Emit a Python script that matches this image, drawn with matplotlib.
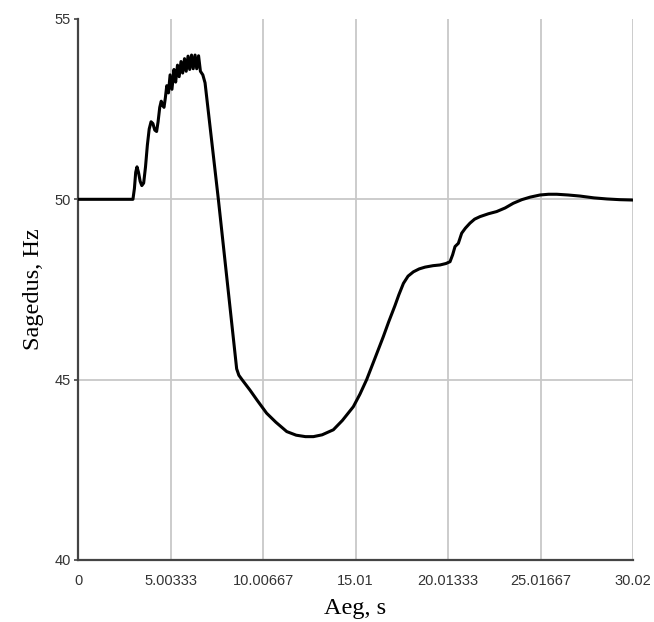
import matplotlib
matplotlib.use("Agg")
import matplotlib.pyplot as plt

# time (s) and frequency (Hz)
T = [0.0, 2.97, 3.05, 3.12, 3.19, 3.27, 3.36, 3.45, 3.55, 3.65, 3.75,
     3.85, 3.95, 4.05, 4.15, 4.25, 4.33, 4.42, 4.50, 4.58, 4.65, 4.72,
     4.80, 4.89, 4.98, 5.08, 5.19, 5.28, 5.38, 5.47, 5.57, 5.66, 5.76,
     5.85, 5.95, 6.04, 6.14, 6.23, 6.33, 6.42, 6.52, 6.62, 6.75, 6.87,
     7.59, 8.58, 8.70, 8.90, 9.30, 9.70, 10.20, 10.70, 11.29, 11.80,
     12.30, 12.73, 13.20, 13.81, 14.30, 14.89, 15.25, 15.61, 16.05, 16.51,
     16.80, 17.14, 17.35, 17.60, 17.85, 18.14, 18.45, 18.77, 19.20, 19.58,
     19.90, 20.12, 20.26, 20.39, 20.57, 20.75, 20.95, 21.20, 21.45, 21.74,
     22.20, 22.64, 23.10, 23.54, 24.00, 24.45, 24.99, 25.45, 25.89, 26.50,
     27.15, 27.90, 28.60, 29.30, 30.02]
F = [50.0, 50.0, 50.30, 50.75, 50.90, 50.75, 50.50, 50.38, 50.45, 50.90, 51.50,
     51.95, 52.15, 52.10, 51.92, 51.88, 52.15, 52.55, 52.72, 52.60, 52.55, 52.80,
     53.15, 52.95, 53.45, 53.05, 53.60, 53.25, 53.72, 53.40, 53.82, 53.50, 53.90,
     53.55, 53.97, 53.60, 54.00, 53.62, 54.00, 53.62, 53.98, 53.55, 53.45, 53.23,
     50.00, 45.30, 45.12, 44.98, 44.71, 44.42, 44.07, 43.82, 43.56, 43.46,
     43.42, 43.42, 43.47, 43.61, 43.87, 44.25, 44.60, 45.00, 45.58, 46.19,
     46.60, 47.05, 47.35, 47.67, 47.87, 47.99, 48.07, 48.12, 48.16, 48.18,
     48.22, 48.27, 48.46, 48.69, 48.78, 49.06, 49.20, 49.34, 49.45, 49.52,
     49.60, 49.66, 49.76, 49.89, 49.99, 50.06, 50.12, 50.14, 50.14, 50.12,
     50.09, 50.04, 50.01, 49.99, 49.98]

XTICKS = [0, 5.00333, 10.00667, 15.01, 20.01333, 25.01667, 30.02]
XTICKLABELS = ["0", "5.00333", "10.00667", "15.01", "20.01333", "25.01667", "30.02"]
YTICKS = [40, 45, 50, 55]

fig = plt.figure(figsize=(6.54, 6.22), dpi=100)
ax = fig.add_axes([0.1193, 0.0997, 0.8487, 0.8698])

ax.plot(T, F, color="black", lw=2.2, zorder=3,
        solid_joinstyle="round", solid_capstyle="round")

ax.set_xlim(0, 30.02)
ax.set_ylim(40, 55)
ax.set_xticks(XTICKS)
ax.set_xticklabels(XTICKLABELS)
ax.set_yticks(YTICKS)

ax.grid(True, color="#c8c8c8", lw=1.3)
ax.get_ygridlines()[-1].set_visible(False)

for s in ("top", "right"):
    ax.spines[s].set_visible(False)
for s in ("left", "bottom"):
    ax.spines[s].set_color("#444444")
    ax.spines[s].set_linewidth(1.6)

ax.tick_params(axis="x", length=0, pad=10, labelsize=10.5, colors="#333333")
ax.tick_params(axis="y", length=3, width=1.2, color="#444444", pad=2,
               labelsize=10.5, labelcolor="#333333")
for lab in ax.get_xticklabels() + ax.get_yticklabels():
    lab.set_family("Liberation Sans")

ax.set_xlabel("Aeg, s", family="Liberation Serif", fontsize=17.5, labelpad=7)
ax.set_ylabel("Sagedus, Hz", family="Liberation Serif", fontsize=17.5, labelpad=8)

fig.savefig("out.png", dpi=100, facecolor="white")
